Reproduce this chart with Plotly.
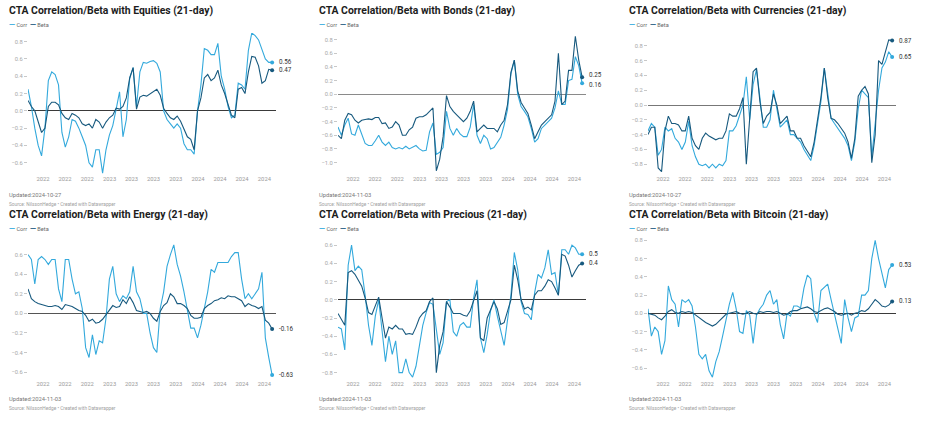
import pandas as pd
import plotly.graph_objects as go

# ---------------- data ----------------
dates = pd.date_range("2022-01-29", periods=73, freq="14D")

tick_dates = ["2022-04-01", "2022-07-01", "2022-10-01", "2023-01-01", "2023-04-01", "2023-07-01",
              "2023-10-01", "2024-01-01", "2024-04-01", "2024-07-01", "2024-10-01"]
tick_labels = ["2022", "2022", "2022", "2023", "2023", "2023", "2023", "2024", "2024", "2024", "2024"]

equities_corr = [0.25, 0.05, -0.2, -0.4, -0.52, -0.2, 0.35, 0.45, 0.42, 0.3,
                 -0.25, -0.42, -0.3, -0.1, -0.12, -0.2, -0.3, -0.4, -0.6, -0.65,
                 -0.45, -0.45, -0.72, -0.45, -0.28, -0.17, 0.02, 0.22, -0.3, -0.1,
                 0.38, 0.5, 0.05, 0.45, 0.56, 0.55, 0.57, 0.58, 0.55, 0.45,
                 0.0, -0.1, -0.15, -0.2, -0.15, -0.2, -0.38, -0.45, -0.45, -0.5,
                 0.0, 0.3, 0.72, 0.7, 0.65, 0.65, 0.78, 0.4, 0.25, 0.05,
                 -0.08, -0.05, 0.32, 0.3, 0.25, 0.7, 0.9, 0.87, 0.82, 0.7,
                 0.6, 0.56, 0.56]
equities_beta = [0.12, 0.05, 0.0, -0.12, -0.25, -0.2, 0.05, 0.1, 0.1, 0.07,
                 -0.03, -0.08, -0.1, -0.03, -0.05, -0.08, -0.15, -0.17, -0.15, -0.2,
                 -0.1, -0.13, -0.2, -0.13, -0.08, -0.05, 0.03, 0.02, 0.05, 0.15,
                 0.38, 0.5, 0.02, 0.16, 0.18, 0.17, 0.2, 0.22, 0.25, 0.18,
                 0.03, -0.03, -0.08, -0.1, -0.06, -0.12, -0.22, -0.3, -0.33, -0.45,
                 0.0, 0.15, 0.38, 0.42, 0.35, 0.38, 0.47, 0.3, 0.2, 0.08,
                 -0.05, -0.08, 0.25, 0.27, 0.2, 0.45, 0.63, 0.62, 0.52, 0.32,
                 0.35, 0.48, 0.47]

bonds_corr = [-0.48, -0.6, -0.45, -0.35, -0.58, -0.6, -0.45, -0.6, -0.72, -0.75,
              -0.75, -0.68, -0.6, -0.7, -0.75, -0.7, -0.78, -0.8, -0.78, -0.8,
              -0.76, -0.8, -0.77, -0.75, -0.8, -0.83, -0.82, -0.55, -0.42, -0.88,
              -0.85, -0.78, -0.25, -0.5, -0.6, -0.5, -0.58, -0.62, -0.62, -0.48,
              -0.15, -0.6, -0.72, -0.6, -0.65, -0.8, -0.78, -0.7, -0.63, -0.45,
              -0.22, 0.3, 0.5, 0.0, -0.18, -0.25, -0.33, -0.5, -0.7, -0.65,
              -0.5, -0.45, -0.4, -0.35, -0.2, 0.05, -0.15, -0.15, 0.2, 0.22,
              0.55, 0.42, 0.16]
bonds_beta = [-0.6, -0.65, -0.38, -0.28, -0.3, -0.38, -0.42, -0.38, -0.37, -0.36,
              -0.37, -0.34, -0.34, -0.43, -0.42, -0.5, -0.48, -0.4, -0.45, -0.6,
              -0.6, -0.52, -0.48, -0.35, -0.33, -0.33, -0.3, -0.25, -0.2, -1.12,
              -0.95, -0.62, -0.02, -0.18, -0.25, -0.3, -0.35, -0.4, -0.35, -0.25,
              -0.1, -0.55, -0.5, -0.45, -0.5, -0.5, -0.5, -0.55, -0.45, -0.38,
              -0.15, 0.32, 0.5, 0.05, -0.12, -0.2, -0.28, -0.45, -0.65, -0.55,
              -0.45, -0.4, -0.35, -0.3, -0.1, 0.6, -0.15, -0.1, 0.35, 0.35,
              0.85, 0.5, 0.25]

currencies_corr = [-0.35, -0.25, -0.3, -0.68, -0.6, -0.3, -0.35, -0.32, -0.45, -0.5,
                   -0.6, -0.5, -0.22, -0.55, -0.7, -0.8, -0.82, -0.8, -0.85, -0.8,
                   -0.85, -0.8, -0.82, -0.75, -0.35, -0.35, -0.28, -0.15, 0.0, 0.38,
                   -0.2, 0.28, 0.48, 0.1, -0.3, -0.3, -0.2, 0.2, -0.05, -0.3,
                   -0.25, -0.2, -0.4, -0.4, -0.45, -0.5, -0.6, -0.68, -0.75, -0.55,
                   -0.28, 0.05, 0.5, 0.15, -0.18, -0.25, -0.32, -0.38, -0.45, -0.55,
                   -0.75, -0.5, -0.05, 0.2, 0.15, 0.1, -0.7, -0.2, 0.2, 0.5,
                   0.58, 0.72, 0.65]
currencies_beta = [-0.4, -0.3, -0.3, -0.85, -0.9, -0.35, -0.15, -0.25, -0.25, -0.27,
                   -0.35, -0.35, -0.15, -0.45, -0.55, -0.6, -0.45, -0.38, -0.42, -0.45,
                   -0.47, -0.45, -0.45, -0.35, -0.12, -0.15, -0.15, -0.05, 0.1, -0.8,
                   -0.12, 0.45, 0.5, 0.05, -0.25, -0.15, -0.1, 0.15, 0.0, -0.25,
                   -0.2, -0.15, -0.35, -0.35, -0.45, -0.45, -0.55, -0.62, -0.7, -0.5,
                   -0.22, 0.1, 0.5, 0.1, -0.18, -0.2, -0.25, -0.32, -0.38, -0.5,
                   -0.72, -0.45, 0.12, 0.2, 0.25, 0.15, -0.78, -0.4, 0.6, 0.55,
                   0.7, 0.88, 0.87]

energy_corr = [0.6, 0.55, 0.3, 0.55, 0.58, 0.55, 0.5, 0.55, 0.55, 0.25,
               0.12, 0.55, 0.55, 0.35, 0.2, 0.22, 0.05, -0.35, -0.45, -0.22,
               -0.42, -0.28, -0.3, -0.05, 0.35, 0.48, 0.2, 0.12, 0.18, 0.15,
               0.22, 0.48, 0.22, 0.15, 0.0, 0.0, -0.2, -0.35, -0.4, 0.05,
               0.22, 0.48, 0.6, 0.7, 0.5, 0.38, 0.22, 0.05, -0.15, -0.15,
               -0.25, -0.12, 0.05, 0.22, 0.45, 0.42, 0.52, 0.52, 0.52, 0.52,
               0.58, 0.62, 0.62, 0.35, 0.15, 0.2, 0.15, 0.2, 0.25, 0.42,
               -0.25, -0.45, -0.63]
energy_beta = [0.25, 0.15, 0.12, 0.1, 0.09, 0.08, 0.07, 0.07, 0.08, 0.07,
               0.04, 0.09, 0.08, 0.07, 0.05, 0.03, 0.02, -0.02, -0.08, -0.06,
               -0.1, -0.09, -0.06, -0.01, 0.03, 0.08, 0.06, 0.07, 0.14, 0.1,
               0.17, 0.11, 0.03, 0.02, 0.01, 0.02, 0.0, -0.05, -0.08, 0.02,
               0.08, 0.11, 0.2, 0.17, 0.1, 0.1, 0.08, 0.05, -0.02, -0.05,
               -0.05, -0.04, 0.05, 0.08, 0.1, 0.13, 0.14, 0.16, 0.15, 0.18,
               0.17, 0.17, 0.15, 0.13, 0.07, 0.1, 0.08, 0.07, 0.05, 0.07,
               -0.07, -0.1, -0.16]

precious_corr = [-0.3, -0.32, -0.55, 0.38, 0.6, 0.32, 0.37, 0.33, 0.05, -0.28,
                 -0.5, -0.18, 0.0, -0.35, -0.68, -0.4, -0.6, -0.45, -0.8, -0.8,
                 -0.65, -0.8, -0.85, -0.73, -0.52, -0.28, -0.14, -0.03, -0.05, -0.3,
                 -0.6, -0.47, -0.02, 0.0, -0.35, -0.4, -0.28, -0.25, -0.3, -0.3,
                 0.02, 0.22, -0.42, -0.58, -0.38, -0.12, 0.0, -0.18, -0.35, -0.5,
                 -0.22, 0.05, 0.52, 0.33, -0.02, -0.15, -0.16, -0.22, 0.08, 0.28,
                 0.24, 0.35, 0.55, 0.28, 0.3, 0.05, 0.55, 0.55, 0.5, 0.6,
                 0.57, 0.5, 0.5]
precious_beta = [-0.15, -0.22, -0.28, 0.3, 0.32, 0.28, 0.22, 0.15, 0.02, -0.14,
                 -0.16, -0.06, 0.03, -0.2, -0.42, -0.3, -0.32, -0.28, -0.32, -0.32,
                 -0.38, -0.37, -0.38, -0.3, -0.2, -0.15, -0.12, -0.02, 0.02, -0.8,
                 -0.5, -0.35, -0.02, -0.08, -0.15, -0.15, -0.15, -0.17, -0.18, -0.12,
                 0.0, 0.1, -0.42, -0.45, -0.2, -0.1, -0.02, -0.1, -0.27, -0.25,
                 -0.12, 0.0, 0.38, 0.22, 0.0, -0.1, -0.08, -0.11, 0.05, 0.1,
                 0.1, 0.15, 0.22, 0.2, 0.13, 0.05, 0.5, 0.48, 0.38, 0.25,
                 0.32, 0.38, 0.4]

bitcoin_corr = [0.05, -0.25, -0.15, -0.2, -0.45, -0.3, 0.3, 0.15, 0.1, -0.15,
                0.15, 0.12, 0.15, 0.08, -0.15, -0.45, -0.5, -0.45, -0.63, -0.7,
                -0.53, -0.42, -0.25, -0.08, 0.1, 0.23, 0.05, -0.2, -0.22, 0.03,
                -0.02, -0.33, -0.02, 0.05, 0.1, 0.2, 0.25, 0.1, 0.15, -0.12,
                -0.28, 0.0, -0.03, 0.08, 0.08, 0.06, 0.28, 0.42, 0.38, 0.0,
                -0.1, 0.25, 0.28, 0.32, 0.15, 0.0, -0.18, -0.33, 0.15, -0.05,
                -0.2, -0.05, -0.03, 0.2, 0.2, 0.25, 0.6, 0.8, 0.6, 0.42,
                0.28, 0.48, 0.53]
bitcoin_beta = [0.0, -0.01, -0.02, -0.05, -0.07, -0.03, 0.02, 0.04, 0.01, 0.0,
                0.02, 0.01, 0.02, 0.01, -0.02, -0.05, -0.08, -0.1, -0.12, -0.14,
                -0.12, -0.08, -0.05, -0.01, 0.0, 0.01, 0.02, 0.0, -0.01, 0.0,
                0.02, 0.0, -0.01, 0.02, 0.01, 0.02, 0.02, 0.01, 0.02, 0.0,
                -0.02, -0.01, 0.02, 0.03, 0.03, 0.05, 0.06, 0.07, 0.05, 0.02,
                0.01, 0.03, 0.05, 0.06, 0.04, 0.02, -0.01, -0.02, -0.01, 0.0,
                -0.02, 0.0, 0.01, 0.03, 0.02, 0.05, 0.1, 0.15, 0.12, 0.08,
                0.07, 0.09, 0.13]

titles = ["CTA Correlation/Beta with Equities (21-day)", "CTA Correlation/Beta with Bonds (21-day)",
          "CTA Correlation/Beta with Currencies (21-day)", "CTA Correlation/Beta with Energy (21-day)",
          "CTA Correlation/Beta with Precious (21-day)", "CTA Correlation/Beta with Bitcoin (21-day)"]
updated = ["2024-10-27", "2024-11-03", "2024-10-27", "2024-11-03", "2024-11-03", "2024-11-03"]
source_text = "Source: NilssonHedge • Created with Datawrapper"

corr_series = [equities_corr, bonds_corr, currencies_corr, energy_corr, precious_corr, bitcoin_corr]
beta_series = [equities_beta, bonds_beta, currencies_beta, energy_beta, precious_beta, bitcoin_beta]

# ---------------- styling ----------------
W, H = 930, 425
C_CORR = "#33a9dc"
C_BETA = "#17597e"
FONT = "Roboto"

y_ranges = [[-0.73, 0.90], [-1.167, 0.897], [-0.932, 0.973],
            [-0.67, 0.78], [-0.87, 0.69], [-0.72, 0.837]]
y_ticks = [[-0.6, -0.4, -0.2, 0.0, 0.2, 0.4, 0.6, 0.8],
           [-1.0, -0.8, -0.6, -0.4, -0.2, 0.0, 0.2, 0.4, 0.6, 0.8],
           [-0.8, -0.6, -0.4, -0.2, 0.0, 0.2, 0.4, 0.6, 0.8],
           [-0.6, -0.4, -0.2, 0.0, 0.2, 0.4, 0.6],
           [-0.8, -0.6, -0.4, -0.2, 0.0, 0.2, 0.4, 0.6],
           [-0.6, -0.4, -0.2, 0.0, 0.2, 0.4, 0.6, 0.8]]
label_shift = [(0, 0), (2, -2), (0, 0), (0, 0), (0, 0), (0, 0)]  # (beta, corr) y-shift
zero_colors = ["#3a3a3a", "#8a8a8a", "#777777", "#555555", "#3a3a3a", "#3a3a3a"]

fig = go.Figure()
annotations = []

for k in range(6):
    row, col = divmod(k, 3)
    n = k + 1
    ox = col * 310
    if row == 0:
        ydom = [1 - 174 / H, 1 - 33 / H]
        t_y, l_y, u_y, s_y = 10, 24, 195, 204
    else:
        ydom = [1 - 379 / H, 1 - 237 / H]
        t_y, l_y, u_y, s_y = 214, 228, 399, 408
    xdom = [(ox + 28) / W, (ox + 276) / W]

    xa = "x" if n == 1 else f"x{n}"
    ya = "y" if n == 1 else f"y{n}"

    fig.add_trace(go.Scatter(x=dates, y=corr_series[k], mode="lines",
                             line=dict(color=C_CORR, width=1.1), xaxis=xa, yaxis=ya,
                             showlegend=False, hoverinfo="skip"))
    fig.add_trace(go.Scatter(x=dates, y=beta_series[k], mode="lines",
                             line=dict(color=C_BETA, width=1.1), xaxis=xa, yaxis=ya,
                             showlegend=False, hoverinfo="skip"))
    fig.add_trace(go.Scatter(x=[dates[-1], dates[-1]], y=[corr_series[k][-1], beta_series[k][-1]],
                             mode="markers", marker=dict(color=[C_CORR, C_BETA], size=4),
                             xaxis=xa, yaxis=ya, showlegend=False, hoverinfo="skip",
                             cliponaxis=False))

    fig.layout[f"xaxis{'' if n == 1 else n}"] = dict(
        domain=xdom, anchor=ya, type="date",
        range=["2022-01-29", "2024-11-18"],
        showgrid=False, zeroline=False, showline=False, ticks="",
        tickvals=tick_dates, ticktext=tick_labels,
        tickfont=dict(size=5.8, color="#9a9a9a", family=FONT),
    )
    fig.layout[f"yaxis{'' if n == 1 else n}"] = dict(
        domain=ydom, anchor=xa, range=y_ranges[k],
        showgrid=False, showline=False,
        zeroline=True, zerolinecolor=zero_colors[k], zerolinewidth=1,
        ticks="outside", ticklen=3, tickcolor="#c8c8c8", tickwidth=1,
        tickvals=y_ticks[k], tickformat=".1f",
        tickfont=dict(size=5.8, color="#a8a8a8", family=FONT),
    )

    # end labels
    bshift, cshift = label_shift[k]
    for vals, ys in ((beta_series[k], bshift), (corr_series[k], cshift)):
        annotations.append(dict(
            xref=xa, yref=ya, x=dates[-1], y=vals[-1], text=f"{vals[-1]:g}",
            showarrow=False, xanchor="left", yanchor="middle", xshift=5, yshift=ys,
            font=dict(size=6.3, color="#333333", family=FONT)))

    # title
    annotations.append(dict(
        xref="paper", yref="paper", x=(ox + 7) / W, y=1 - t_y / H,
        text=f"<b>{titles[k]}</b>", showarrow=False, xanchor="left", yanchor="middle",
        font=dict(size=10.4, color="#1d1d1d", family=FONT)))
    # legend
    annotations.append(dict(
        xref="paper", yref="paper", x=(ox + 7) / W, y=1 - l_y / H,
        text=(f"<span style='color:{C_CORR};font-size:8px'><b>—</b></span> Corr  "
              f"<span style='color:{C_BETA};font-size:8px'><b>—</b></span> Beta"),
        showarrow=False, xanchor="left", yanchor="middle",
        font=dict(size=5.6, color="#666666", family=FONT)))
    # updated
    annotations.append(dict(
        xref="paper", yref="paper", x=(ox + 7) / W, y=1 - u_y / H,
        text=f"Updated:{updated[k]}", showarrow=False, xanchor="left", yanchor="middle",
        font=dict(size=5.8, color="#777777", family=FONT)))
    # source
    annotations.append(dict(
        xref="paper", yref="paper", x=(ox + 7) / W, y=1 - s_y / H,
        text=source_text, showarrow=False, xanchor="left", yanchor="middle",
        font=dict(size=4.8, color="#a0a0a0", family=FONT)))

fig.update_layout(
    width=W, height=H, margin=dict(l=0, r=0, t=0, b=0),
    paper_bgcolor="white", plot_bgcolor="white",
    font=dict(family=FONT), annotations=annotations, hovermode=False,
)

fig.write_html("out.html", config={"displayModeBar": False},
               post_script="document.body.style.margin='0px';")
